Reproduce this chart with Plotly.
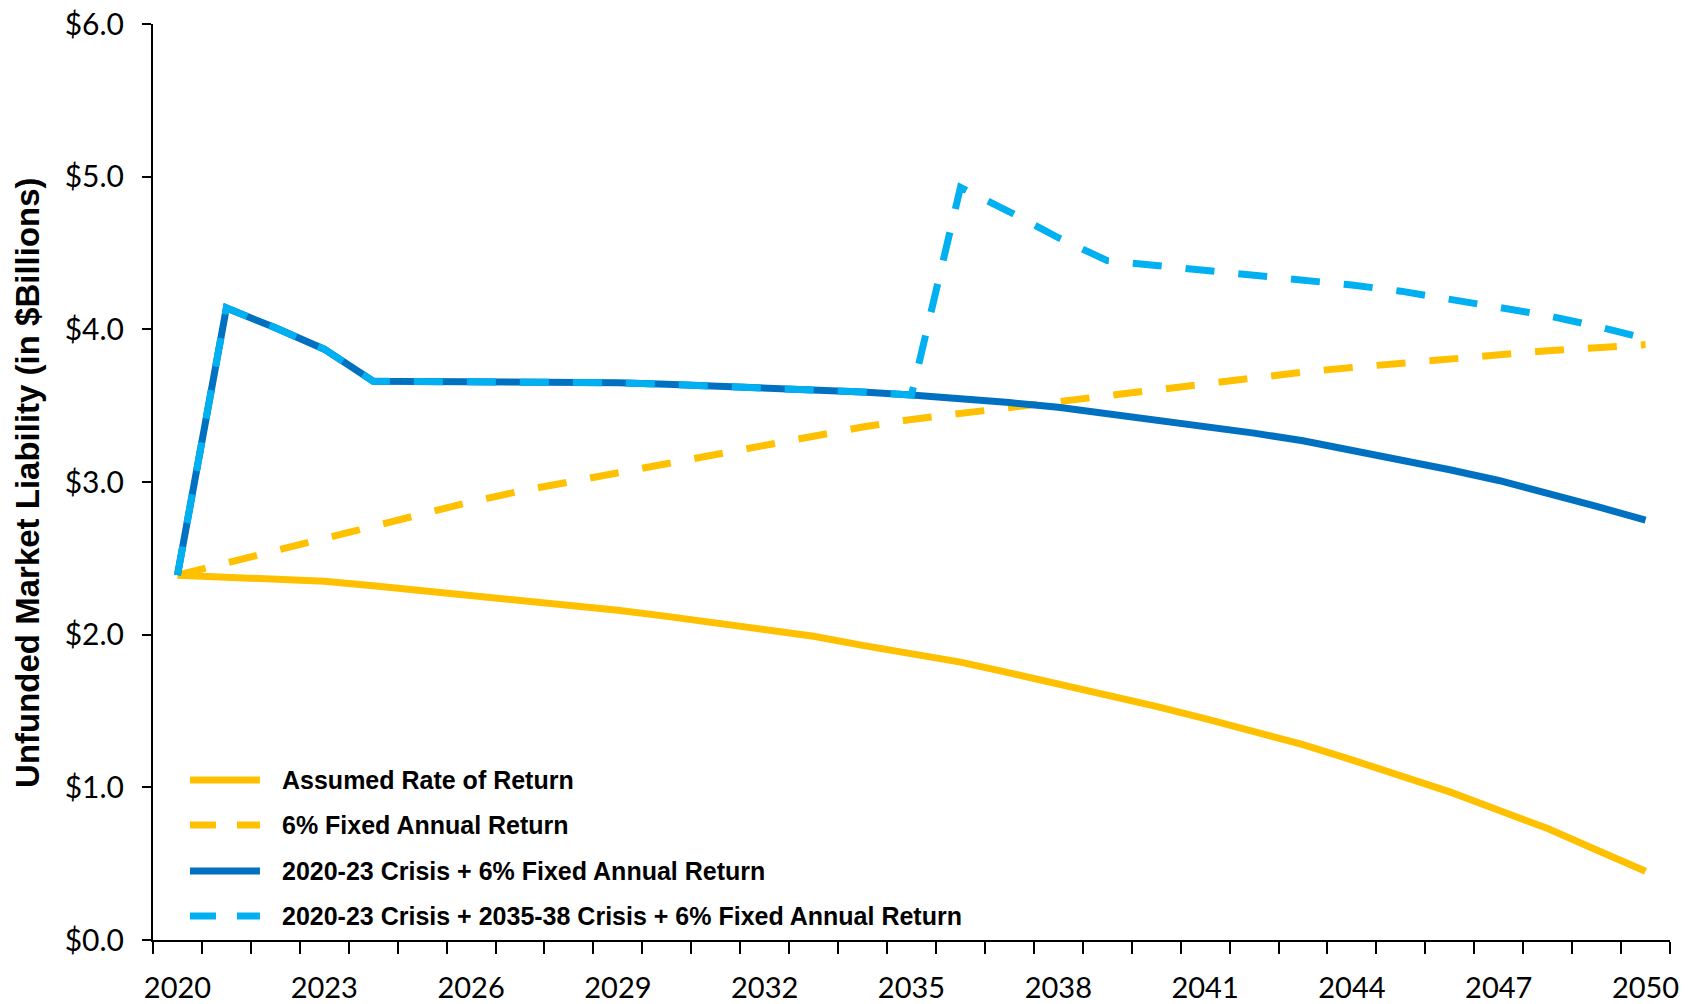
import plotly.graph_objects as go

years = list(range(2020, 2051))

assumed_rate = [2.39, 2.38, 2.36, 2.35, 2.32, 2.29, 2.26, 2.22, 2.19, 2.16, 2.12,
                2.08, 2.04, 1.99, 1.93, 1.88, 1.82, 1.75, 1.68, 1.61, 1.53,
                1.45, 1.37, 1.28, 1.18, 1.08, 0.97, 0.85, 0.73, 0.59, 0.45]

fixed_6pct = [2.39, 2.47, 2.56, 2.64, 2.72, 2.80, 2.87, 2.94, 3.00, 3.06, 3.13,
              3.19, 3.25, 3.30, 3.36, 3.41, 3.45, 3.48, 3.52, 3.56, 3.60,
              3.64, 3.68, 3.72, 3.75, 3.78, 3.81, 3.84, 3.86, 3.88, 3.90]

crisis_2020 = [2.39, 4.14, 4.01, 3.87, 3.66, 3.66, 3.66, 3.66, 3.65, 3.65, 3.64,
               3.63, 3.62, 3.61, 3.59, 3.57, 3.55, 3.52, 3.49, 3.45, 3.41,
               3.37, 3.32, 3.27, 3.21, 3.15, 3.08, 3.01, 2.93, 2.84, 2.75]

crisis_2020_2035 = [2.39, 4.14, 4.01, 3.87, 3.66, 3.66, 3.66, 3.66, 3.65, 3.65, 3.64,
                    3.63, 3.62, 3.61, 3.59, 3.57, 4.93, 4.77, 4.60, 4.45, 4.42,
                    4.39, 4.36, 4.32, 4.29, 4.25, 4.20, 4.15, 4.09, 4.02, 3.94]

series_names = [
    "Assumed Rate of Return",
    "6% Fixed Annual Return",
    "2020-23 Crisis + 6% Fixed Annual Return",
    "2020-23 Crisis + 2035-38 Crisis + 6% Fixed Annual Return",
]
series_values = [assumed_rate, fixed_6pct, crisis_2020, crisis_2020_2035]
series_colors = ["#FFC000", "#FFC000", "#0070C0", "#00B0F0"]
series_dash = ["solid", "29px,24px", "solid", "29px,24px"]

tick_years = list(range(2020, 2051, 3))

fig = go.Figure()
for name, vals, col, dash in zip(series_names, series_values, series_colors, series_dash):
    fig.add_trace(go.Scatter(
        x=years, y=vals, mode="lines", name=name,
        line=dict(color=col, width=7, dash=dash),
        showlegend=False, hoverinfo="skip",
    ))

# custom legend (longer line samples, like the original)
leg_y = [0.1747, 0.1255, 0.0753, 0.0262]
leg_dash = ["solid", "26px,21px", "solid", "26px,21px"]
for name, col, dash, yy in zip(series_names, series_colors, leg_dash, leg_y):
    fig.add_shape(type="line", xref="paper", yref="paper",
                  x0=0.0244, x1=0.0705, y0=yy, y1=yy,
                  line=dict(color=col, width=7, dash=dash))
    fig.add_annotation(xref="paper", yref="paper", x=0.0837, y=yy,
                       text=name, showarrow=False, xanchor="left", yanchor="middle",
                       font=dict(family="Liberation Sans, Arial, sans-serif", size=25,
                                 color="#000000", weight="bold"))

fig.add_annotation(xref="paper", yref="paper", x=-0.0831, y=0.5,
                   text="Unfunded Market Liability (in $Billions)", textangle=-90,
                   showarrow=False, xanchor="center", yanchor="middle",
                   font=dict(family="Liberation Sans, Arial, sans-serif", size=33,
                             color="#000000", weight="bold"))

fig.update_layout(
    template="none",
    width=1700, height=1004,
    margin=dict(l=153, r=30, t=24, b=64, autoexpand=False),
    paper_bgcolor="white", plot_bgcolor="white",
    showlegend=False,
    xaxis=dict(
        automargin=False,
        range=[2019.5, 2050.5], tickmode="array", tickvals=tick_years,
        ticktext=[str(y) for y in tick_years],
        ticks="", showgrid=False, zeroline=False,
        showline=True, linecolor="black", linewidth=2,
        tickfont=dict(family="Lato, Carlito, sans-serif", size=29, color="#000000"),
        ticklabelstandoff=21,
        minor=dict(ticks="outside", tick0=2019.5, dtick=1, ticklen=12,
                   tickwidth=2, tickcolor="black", showgrid=False),
    ),
    yaxis=dict(
        automargin=False,
        range=[0, 6], dtick=1, tick0=0, tickprefix="$", tickformat=".1f",
        ticks="outside", ticklen=9, tickwidth=2, tickcolor="black",
        showgrid=False, zeroline=False,
        showline=True, linecolor="black", linewidth=2,
        tickfont=dict(family="Lato, Carlito, sans-serif", size=30, color="#000000"),
        ticklabelstandoff=12,
    ),
)

fig.write_html("out.html",
               config={"displayModeBar": False},
               post_script="document.body.style.margin='0px';document.body.style.padding='0px';")
